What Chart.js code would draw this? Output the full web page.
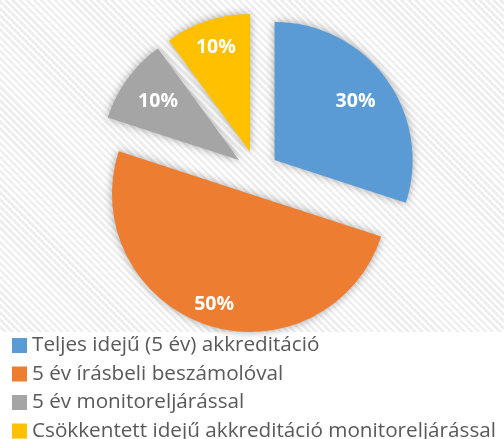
<!DOCTYPE html>
<html><head><meta charset="utf-8">
<script src="https://cdn.jsdelivr.net/npm/chart.js@4"></script>
<style>
html,body{margin:0;padding:0;background:#fff;}
#wrap{position:relative;width:504px;height:439px;overflow:hidden;}
#bg{position:absolute;left:0;top:0;width:504px;height:332px;
background:repeating-linear-gradient(45deg,#ffffff 0px,#ffffff 2.5px,#eeeeee 2.5px,#eeeeee 5px);}
canvas{position:absolute;left:0;top:0;}
</style></head>
<body><div id="wrap"><div id="bg"></div><canvas id="c" width="504" height="439"></canvas></div>
<script>
const categories = ["Teljes idejű (5 év) akkreditáció","5 év írásbeli beszámolóval","5 év monitoreljárással","Csökkentett idejű akkreditáció monitoreljárással"];
const shares = [30, 50, 10, 10];
const colors = ["#5B9BD5","#ED7D31","#A5A5A5","#FFC000"];

const EXPLODE = 22;
const labelDist = [0.725, 0.84, 0.725, 0.80];
const explodedSlices = {
  id:'explodedSlices',
  beforeDatasetsDraw(chart){
    const ctx=chart.ctx;
    chart.getDatasetMeta(0).data.forEach(arc=>{
      if(!arc._exploded){
        const orig=arc.draw;
        arc.draw=function(c,area){
          const mid=(this.startAngle+this.endAngle)/2;
          c.save(); c.translate(Math.cos(mid)*EXPLODE, Math.sin(mid)*EXPLODE);
          orig.call(this,c,area); c.restore();
        };
        arc._exploded=true;
      }
    });
    ctx.save(); ctx.shadowColor='rgba(0,0,0,0.35)'; ctx.shadowBlur=9;
  },
  afterDatasetsDraw(chart){
    const ctx=chart.ctx; ctx.restore();
    const meta=chart.getDatasetMeta(0);
    const total=shares.reduce((a,b)=>a+b,0);
    ctx.save();
    ctx.fillStyle='#fff'; ctx.font="bold 19.5px 'Open Sans'"; ctx.textAlign='center'; ctx.textBaseline='middle';
    meta.data.forEach((arc,i)=>{
      const mid=(arc.startAngle+arc.endAngle)/2;
      const d=EXPLODE+arc.outerRadius*labelDist[i];
      ctx.fillText(Math.round(shares[i]/total*100)+'%', arc.x+Math.cos(mid)*d, arc.y+Math.sin(mid)*d);
    });
    ctx.restore();
  }
};
new Chart(document.getElementById('c'),{
  type:'pie',
  data:{labels:categories,datasets:[{data:shares,backgroundColor:colors,borderWidth:0,offset:0,hoverOffset:0}]},
  options:{
    responsive:false,animation:false,
    radius:138,
    layout:{padding:{left:9.55,right:-0.45,top:18.65,bottom:-12.35}},
    plugins:{
      tooltip:{enabled:false},
      legend:{position:'bottom',align:'start',
        labels:{usePointStyle:true,pointStyle:'rect',boxWidth:4.3,boxHeight:15,padding:7.8,color:'#595959',
          font:{family:"'Open Sans'",size:20.7}}}
    }
  },
  plugins:[explodedSlices]
});
</script></body></html>
